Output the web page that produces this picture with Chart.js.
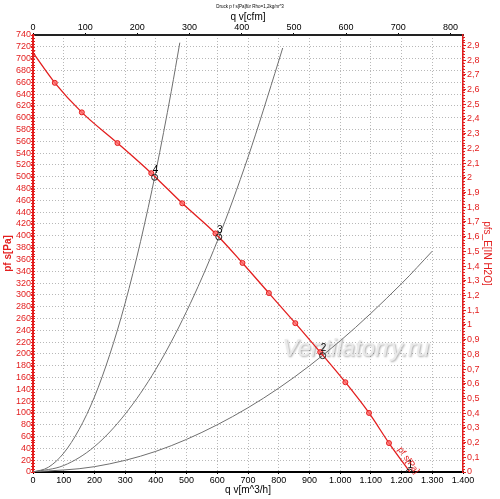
<!DOCTYPE html>
<html><head><meta charset="utf-8">
<script src="https://cdn.jsdelivr.net/npm/chart.js@4.4.1/dist/chart.umd.min.js"></script>
<style>html,body{margin:0;padding:0;background:#fff;overflow:hidden}#wrap{width:500px;height:499px}</style>
</head><body><div id="wrap"><canvas id="c" width="500" height="499"></canvas></div>
<script>
// ---- data ----
const fanQ = [0, 71, 159, 275, 385, 486, 594, 682, 768, 854, 935, 1017, 1094, 1159, 1227];
const fanP = [710, 659, 609, 557, 506, 455, 404, 354, 303, 252, 203, 152, 100, 49, 0];
const sys1Q = [0, 50, 100, 150, 200, 250, 300, 350, 400, 450, 478];
const sys1P = [0, 8, 32, 72, 127, 199, 286, 390, 509, 644, 727];
const sys2Q = [0, 200, 400, 600, 800, 1000, 1200, 1300];
const sys2P = [0, 9, 35, 80, 142, 222, 319, 374];
const sys3Q = [0, 100, 200, 300, 400, 500, 600, 700, 800, 813];
const sys3P = [0, 11, 43, 98, 174, 272, 391, 533, 696, 718];
const opQ = [1225, 943, 605, 396];
const opP = [0, 197, 398, 499];
const opLabels = ['1', '2', '3', '4'];
const bottomTickLabels = ['0','100','200','300','400','500','600','700','800','900','1.000','1.100','1.200','1.300','1.400'];
const topTickLabels = ['0','100','200','300','400','500','600','700','800'];
const M3H_PER_CFM = 1.699;
const PA_PER_INH2O = 249.089;
const Q_MAX = 1400, P_MAX = 740;

const FONT = '"Liberation Sans", Arial, sans-serif';
const RED = '#e31e1e';
const pts = (qs, ps) => qs.map((q, i) => ({x: q, y: ps[i]}));

const minorTicks = {
  id: 'minorTicks',
  afterDraw(chart) {
    const {ctx, chartArea, scales} = chart;
    ctx.save();
    ctx.strokeStyle = RED; ctx.lineWidth = 1;
    ctx.beginPath();
    for (let v = 0; v <= P_MAX; v += 5) {
      const y = Math.round(scales.y.getPixelForValue(v)) + 0.5;
      ctx.moveTo(chartArea.left - 2, y); ctx.lineTo(chartArea.left + 2, y);
    }
    for (let k = 0; k * 0.02 <= P_MAX / PA_PER_INH2O; k++) {
      const y = Math.round(scales.y2.getPixelForValue(k * 0.02)) + 0.5;
      ctx.moveTo(chartArea.right - 1, y); ctx.lineTo(chartArea.right + 2, y);
    }
    ctx.stroke();
    ctx.restore();
  }
};

const watermark = {
  id: 'watermark',
  beforeDatasetsDraw(chart) {
    const {ctx, chartArea} = chart;
    ctx.save();
    ctx.font = 'italic 24px ' + FONT;
    ctx.textAlign = 'center'; ctx.textBaseline = 'middle';
    const cx = chartArea.left + (chartArea.right - chartArea.left) * 0.751;
    const cy = chartArea.top + (chartArea.bottom - chartArea.top) * 0.72;
    ctx.shadowColor = 'rgba(0,0,0,0.35)'; ctx.shadowBlur = 2; ctx.shadowOffsetX = 1; ctx.shadowOffsetY = 1;
    ctx.fillStyle = 'rgba(235,235,235,0.95)';
    ctx.fillText('Ventilatorry.ru', cx, cy);
    ctx.restore();
  }
};

const annotations = {
  id: 'annotations',
  afterDatasetsDraw(chart) {
    const {ctx, scales} = chart;
    ctx.save();
    ctx.fillStyle = '#000';
    ctx.font = '10px ' + FONT;
    ctx.textAlign = 'center'; ctx.textBaseline = 'middle';
    opQ.forEach((q, i) => {
      const x = scales.x.getPixelForValue(q), y = scales.y.getPixelForValue(opP[i]);
      ctx.fillText(opLabels[i], x + 1, y - 7);
    });
    // curve label along red line end
    const n = fanQ.length;
    const x1 = scales.x.getPixelForValue(fanQ[n - 2]), y1 = scales.y.getPixelForValue(fanP[n - 2]);
    const x2 = scales.x.getPixelForValue(fanQ[n - 1]), y2 = scales.y.getPixelForValue(fanP[n - 1]);
    const ang = Math.atan2(y2 - y1, x2 - x1);
    ctx.translate(x2, y2); ctx.rotate(ang);
    ctx.fillStyle = RED; ctx.font = '9px ' + FONT;
    ctx.textAlign = 'right'; ctx.textBaseline = 'bottom';
    ctx.fillText('pf s[Pa]', 5, -1);
    ctx.restore();
  }
};

new Chart(document.getElementById('c'), {
  type: 'line',
  data: {
    datasets: [
      { label: 'points', data: pts(opQ, opP), showLine: false, pointRadius: 3, pointBorderWidth: 1,
        pointBorderColor: '#222', pointBackgroundColor: 'rgba(255,255,255,0)', borderColor: '#222' },
      { label: 'pf s', data: pts(fanQ, fanP), borderColor: RED, borderWidth: 1.3, cubicInterpolationMode: 'monotone',
        pointStyle: ctx => ctx.dataIndex === 0 ? 'crossRot' : 'circle',
        pointRadius: ctx => ctx.dataIndex === fanQ.length - 1 ? 0 : (ctx.dataIndex === 0 ? 3 : 2.5),
        pointBorderColor: RED, pointBackgroundColor: 'rgba(255,110,110,0.8)', pointBorderWidth: 1 },
      { label: 's1', data: pts(sys1Q, sys1P), borderColor: '#6f6f6f', borderWidth: 1, pointRadius: 0, cubicInterpolationMode: 'monotone' },
      { label: 's2', data: pts(sys2Q, sys2P), borderColor: '#6f6f6f', borderWidth: 1, pointRadius: 0, cubicInterpolationMode: 'monotone' },
      { label: 's3', data: pts(sys3Q, sys3P), borderColor: '#6f6f6f', borderWidth: 1, pointRadius: 0, cubicInterpolationMode: 'monotone' }
    ]
  },
  options: {
    responsive: false, animation: false,
    layout: { padding: 0, autoPadding: false },
    plugins: {
      legend: { display: false }, tooltip: { enabled: false },
      title: { display: true, text: 'Druck p f s[Pa]für Rho=1,2kg/m^3', color: '#000',
        font: { family: FONT, size: 4.5, weight: 'normal' }, padding: { top: 4, bottom: 0 } }
    },
    scales: {
      x: {
        type: 'linear', position: 'bottom', min: 0, max: Q_MAX,
        ticks: { stepSize: 100, autoSkip: false, maxRotation: 0, color: '#000', padding: 1,
          font: { family: FONT, size: 9 }, callback: (v, i) => bottomTickLabels[i] },
        grid: { color: '#b8b8b8', lineWidth: 1, tickLength: 2, tickColor: '#000' },
        border: { color: '#000', width: 2, dash: [1, 2] },
        title: { display: true, text: 'q v[m^3/h]', color: '#000', font: { family: FONT, size: 10 }, padding: { top: 0, bottom: 3 } },
        afterFit: s => { s.height = 27; }
      },
      x2: {
        type: 'linear', position: 'top', min: 0, max: Q_MAX / M3H_PER_CFM,
        ticks: { stepSize: 100, includeBounds: false, autoSkip: false, maxRotation: 0, color: '#000', padding: 0,
          font: { family: FONT, size: 9 }, callback: (v, i) => topTickLabels[i] },
        grid: { drawOnChartArea: false, tickLength: 2, tickColor: '#000' },
        border: { color: '#222', width: 2 },
        title: { display: true, text: 'q v[cfm]', color: '#000', font: { family: FONT, size: 10 }, padding: { top: 2, bottom: 0 } },
        afterFit: s => { s.height = 25.6; }
      },
      y: {
        type: 'linear', position: 'left', min: 0, max: P_MAX,
        ticks: { stepSize: 20, autoSkip: false, color: RED, padding: 0, font: { family: FONT, size: 9 },
          callback: v => String(v) },
        grid: { color: '#b8b8b8', lineWidth: 1, tickLength: 2, tickColor: RED },
        border: { color: RED, width: 2, dash: [1, 2] },
        title: { display: true, text: 'pf s[Pa]', color: RED, font: { family: FONT, size: 10, weight: 'bold' }, padding: { top: 2, bottom: 0 } },
        afterFit: s => { s.width = 33; }
      },
      y2: {
        type: 'linear', position: 'right', min: 0, max: P_MAX / PA_PER_INH2O,
        ticks: { stepSize: 0.1, includeBounds: false, autoSkip: false, color: RED, padding: 1, font: { family: FONT, size: 9 },
          callback: v => { const r = Math.round(v * 10) / 10; return String(r).replace('.', ','); } },
        grid: { drawOnChartArea: false, tickLength: 3, tickColor: RED },
        border: { color: RED, width: 1.5 },
        title: { display: true, text: 'pfs_E[IN H2O]', color: RED, font: { family: FONT, size: 10 }, padding: { top: 7, bottom: 0 } },
        afterFit: s => { s.width = 37; }
      }
    }
  },
  plugins: [watermark, annotations, minorTicks]
});
</script>
</body></html>
